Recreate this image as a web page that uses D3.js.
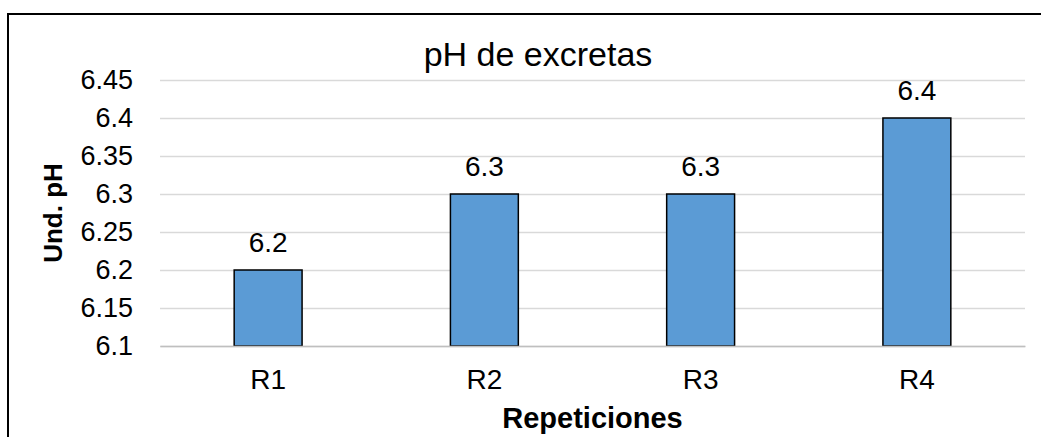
<!DOCTYPE html>
<html>
<head>
<meta charset="utf-8">
<script src="https://cdn.jsdelivr.net/npm/d3@7"></script>
<style>
  html, body { margin: 0; padding: 0; background: #fff; }
  svg { display: block; font-family: "Liberation Sans", Arial, sans-serif; }
</style>
</head>
<body>
<svg id="chart" width="1041" height="437"></svg>
<script>
const categories = ["R1", "R2", "R3", "R4"];
const values = [6.2, 6.3, 6.3, 6.4];
const yTicks = [6.1, 6.15, 6.2, 6.25, 6.3, 6.35, 6.4, 6.45];
const yTickLabels = ["6.1", "6.15", "6.2", "6.25", "6.3", "6.35", "6.4", "6.45"];
const title = "pH de excretas";
const xTitle = "Repeticiones";
const yTitle = "Und. pH";

(function () {
const svg = d3.select("#chart");
const pL = 160, pR = 1025, pT = 80, pB = 346;

// outer frame (extends beyond the visible crop)
svg.append("rect")
  .attr("x", 8).attr("y", 14)
  .attr("width", 1058).attr("height", 460)
  .attr("fill", "none").attr("stroke", "#000").attr("stroke-width", 2);

const x = d3.scaleBand().domain(categories).range([pL, pR]).paddingInner(0.686).paddingOuter(0.343);
const y = d3.scaleLinear().domain([6.1, 6.45]).range([pB, pT]);

// gridlines + y tick labels
const yAxis = d3.axisLeft(y).tickValues(yTicks)
  .tickSize(-(pR - pL)).tickFormat((d, i) => yTickLabels[i]).tickPadding(27);
const gy = svg.append("g").attr("transform", `translate(${pL},0)`).call(yAxis);
gy.select(".domain").remove();
gy.selectAll(".tick line").attr("stroke", "#d9d9d9").attr("stroke-width", 1.3);
gy.selectAll(".tick text").attr("font-size", 27).attr("fill", "#000")
  .attr("font-family", "Liberation Sans, Arial, sans-serif");

// bars
svg.append("g").selectAll("rect").data(values).join("rect")
  .attr("x", (d, i) => x(categories[i]))
  .attr("y", d => y(d))
  .attr("width", x.bandwidth())
  .attr("height", d => y(6.1) - y(d))
  .attr("fill", "#5b9bd5")
  .attr("stroke", "#000").attr("stroke-width", 1.5);

// x axis baseline and labels
const xAxis = d3.axisBottom(x).tickSize(0).tickPadding(23.5);
const gx = svg.append("g").attr("transform", `translate(0,${pB})`).call(xAxis);
gx.select(".domain").attr("stroke", "#bfbfbf").attr("stroke-width", 1.3);
gx.selectAll(".tick text").attr("font-size", 28).attr("fill", "#000")
  .attr("font-family", "Liberation Sans, Arial, sans-serif");

// data labels
svg.append("g").selectAll("text").data(values).join("text")
  .attr("x", (d, i) => x(categories[i]) + x.bandwidth() / 2)
  .attr("y", d => y(d) - 18)
  .attr("text-anchor", "middle")
  .attr("font-size", 28)
  .text(d => d3.format(".1f")(d));

// title
svg.append("text").attr("x", 538).attr("y", 66)
  .attr("text-anchor", "middle").attr("font-size", 34).text(title);

// axis titles
svg.append("text").attr("x", (pL + pR) / 2).attr("y", 428)
  .attr("text-anchor", "middle").attr("font-size", 29).attr("font-weight", "bold").text(xTitle);
svg.append("text").attr("transform", `translate(62,${(pT + pB) / 2}) rotate(-90)`)
  .attr("text-anchor", "middle").attr("font-size", 26).attr("font-weight", "bold").text(yTitle);
})();
</script>
</body>
</html>
